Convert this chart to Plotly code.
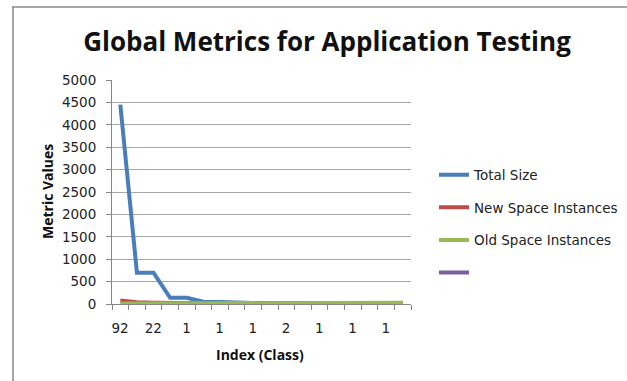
import plotly.graph_objects as go

# ---- data ----
categories = ["92", "45", "22", "10", "1", "1", "1", "1", "1", "1",
              "2", "1", "1", "1", "1", "1", "1", "1"]
total_size = [4450, 700, 700, 140, 140, 50, 45, 30, 25, 22,
              20, 20, 20, 20, 20, 20, 20, 20]
new_space = [80, 40, 30, 22, 15, 12, 10, 10, 10, 10,
             10, 10, 10, 10, 10, 10, 10, 10]
old_space = [10, 10, 12, 15, 20, 25, 28, 30, 30, 30,
             30, 30, 30, 30, 30, 30, 30, 30]
unnamed = [None] * 18
series_names = ["Total Size", "New Space Instances", "Old Space Instances", ""]
colors = ["#4A7EBB", "#BE4B48", "#98B954", "#7D60A0"]
title_text = "Global Metrics for Application Testing"
x_title = "Index (Class)"
y_title = "Metric Values"

W, H = 627, 381
L, R, T, B = 112, 411, 80, 304  # plot area in px
pw, ph = R - L, B - T


def px_x(px):
    return (px - L) / pw


def px_y(py):
    return (B - py) / ph


xs = list(range(len(categories)))
n = len(categories)
# Excel-style: tick marks on category boundaries, label every 2nd category
boundaries = [i - 0.5 for i in range(n + 1)]
boundary_text = [categories[i] if (i < n and i % 2 == 0) else ""
                 for i in range(n + 1)]

fig = go.Figure()
for i, (name, vals) in enumerate(zip(series_names,
                                     [total_size, new_space, old_space, unnamed])):
    fig.add_trace(go.Scatter(
        x=xs, y=vals, name=name, mode="lines",
        line=dict(color=colors[i], width=4),
        legendgroup=f"g{i}", showlegend=True,
    ))

tick_font = dict(family="DejaVu Sans", size=13.5, color="#222222")

fig.update_layout(
    width=W, height=H,
    margin=dict(l=L, r=W - R, t=T, b=H - B, pad=0, autoexpand=False),
    paper_bgcolor="white", plot_bgcolor="white",
    title=dict(text=f"<b>{title_text}</b>", x=327 / W, xanchor="center",
               y=1 - 42 / H, yanchor="middle", yref="container",
               font=dict(family="Open Sans", size=26, color="#111111")),
    showlegend=True,
    legend=dict(x=434 / W, xanchor="left", y=1 - 224 / H, yanchor="middle",
                xref="container", yref="container",
                font=dict(family="DejaVu Sans", size=13.5, color="#222222"),
                tracegroupgap=12, bgcolor="rgba(0,0,0,0)"),
    xaxis=dict(
        range=[-0.5, n - 0.5],
        tickmode="array", tickvals=boundaries, ticktext=boundary_text,
        ticks="outside", ticklen=5, tickcolor="#868686", tickwidth=1,
        ticklabelshift=int(round(pw / n / 2)),
        showgrid=False, zeroline=False,
        showline=True, linecolor="#868686", linewidth=1,
        tickfont=tick_font, ticklabelstandoff=7,
    ),
    yaxis=dict(
        range=[0, 5000], tickmode="linear", tick0=0, dtick=500,
        ticks="outside", ticklen=5, tickcolor="#868686", tickwidth=1,
        showgrid=True, gridcolor="#A6A6A6", gridwidth=1,
        zeroline=False, showline=True, linecolor="#868686", linewidth=1,
        tickfont=tick_font, ticklabelstandoff=7,
    ),
    annotations=[
        dict(text=f"<b>{y_title}</b>", x=px_x(47), y=px_y(192),
             xref="paper", yref="paper", showarrow=False, textangle=-90,
             xanchor="center", yanchor="middle",
             font=dict(family="Open Sans", size=14, color="#111111")),
        dict(text=f"<b>{x_title}</b>", x=px_x(260), y=px_y(354),
             xref="paper", yref="paper", showarrow=False,
             xanchor="center", yanchor="middle",
             font=dict(family="Open Sans", size=14, color="#111111")),
    ],
    shapes=[
        dict(type="line", xref="paper", yref="paper",
             x0=px_x(12), x1=px_x(W + 2), y0=px_y(7), y1=px_y(7),
             line=dict(color="#8A8A8A", width=1.5)),
        dict(type="line", xref="paper", yref="paper",
             x0=px_x(13), x1=px_x(13), y0=px_y(7), y1=px_y(H + 2),
             line=dict(color="#8A8A8A", width=1.5)),
    ],
)

fig.write_html("out.html", config={"displayModeBar": False},
               post_script="document.body.style.margin='0px';")
